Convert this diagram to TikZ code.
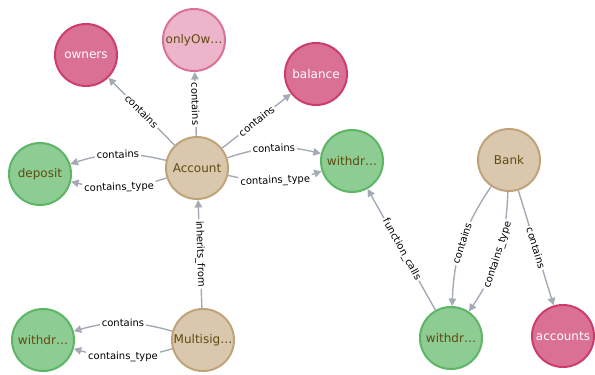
\documentclass[tikz,border=0pt]{standalone}
\usepackage{fontspec}
\setmainfont{DejaVu Sans}
\usetikzlibrary{arrows.meta}
\definecolor{edgec}{HTML}{A5ABB6}
\definecolor{pinkf}{HTML}{DA7194}
\definecolor{pinkd}{HTML}{CC3C6C}
\definecolor{lpinkf}{HTML}{ECB5C9}
\definecolor{lpinkd}{HTML}{DA7298}
\definecolor{greenf}{HTML}{8DCC93}
\definecolor{greend}{HTML}{5DB665}
\definecolor{tanf}{HTML}{D9C8AE}
\definecolor{tand}{HTML}{C0A378}
\definecolor{txtbrown}{HTML}{604A0E}
\begin{document}
\begin{tikzpicture}[x=1pt,y=1pt,
 gnode/.style={circle, minimum size=62pt, inner sep=0pt, line width=2pt, font=\fontsize{12}{14}\selectfont},
 pinknode/.style={gnode, fill=pinkf, draw=pinkd, text=white},
 lpinknode/.style={gnode, fill=lpinkf, draw=lpinkd, text=txtbrown},
 greennode/.style={gnode, fill=greenf, draw=greend, text=txtbrown},
 tannode/.style={gnode, fill=tanf, draw=tand, text=txtbrown},
 rel/.style={draw=edgec, line width=1.4pt, -{Triangle[length=7.5pt,width=7.5pt]}},
 lbl/.style={fill=white, inner sep=1.8pt, sloped, midway, font=\fontsize{10}{12}\selectfont, text=black}
]
\fill[white] (0,0) rectangle (595,375);
\useasboundingbox (0,0) rectangle (595,375);

\node[pinknode]  (own)  at (86,320)  {owners};
\node[lpinknode] (only) at (194,335) {onlyOw…};
\node[pinknode]  (bal)  at (316,301) {balance};
\node[greennode] (dep)  at (40,201)  {deposit};
\node[tannode]   (acc)  at (197,207) {Account};
\node[greennode] (wtop) at (352,214) {withdr…};
\node[tannode]   (bank) at (509,215) {Bank};
\node[greennode] (wbot) at (451,37)  {withdr…};
\node[pinknode]  (accs) at (563,39)  {accounts};
\node[greennode] (wbl)  at (43,35)   {withdr…};
\node[tannode]   (multi) at (203,35) {Multisig…};

\draw[rel] (acc) -- node[lbl]{contains} (own);
\draw[rel] (acc) -- node[lbl]{contains} (only);
\draw[rel] (acc) -- node[lbl]{contains} (bal);
\draw[rel] (acc) to[bend right=16] node[lbl]{contains} (dep);
\draw[rel] (acc) to[bend left=16] node[lbl]{contains\_type} (dep);
\draw[rel] (acc) to[bend left=16] node[lbl]{contains} (wtop);
\draw[rel] (acc) to[bend right=16] node[lbl]{contains\_type} (wtop);
\draw[rel] (multi) -- node[lbl]{inherits\_from} (acc);
\draw[rel] (multi) to[bend right=16] node[lbl]{contains} (wbl);
\draw[rel] (multi) to[bend left=16] node[lbl]{contains\_type} (wbl);
\draw[rel] (bank) to[bend right=16] node[lbl]{contains} (wbot);
\draw[rel] (bank) to[bend left=16] node[lbl]{contains\_type} (wbot);
\draw[rel] (bank) -- node[lbl]{contains} (accs);
\draw[rel] (wbot) -- node[lbl]{function\_calls} (wtop);
\end{tikzpicture}
\end{document}
